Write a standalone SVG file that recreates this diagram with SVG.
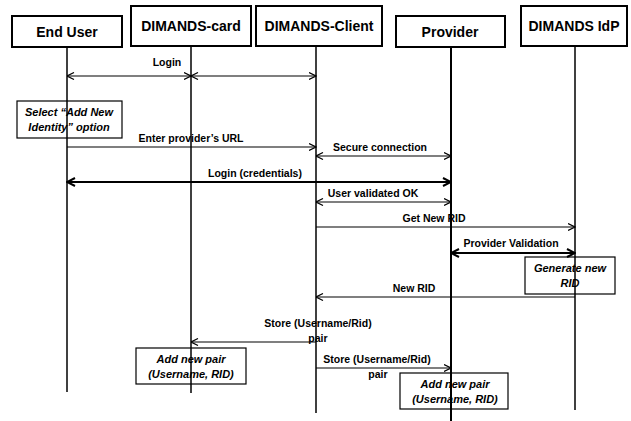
<svg xmlns="http://www.w3.org/2000/svg" width="631" height="421" viewBox="0 0 631 421">
  <style>
    .hdr { fill: #fff; stroke: #000; stroke-width: 2; }
    .life { stroke: #000; stroke-width: 1.5; fill: none; }
    .note { fill: none; stroke: #000; stroke-width: 1.2; }
    .msg { stroke: #000; stroke-width: 1.2; fill: none; }
    .msgb { stroke: #000; stroke-width: 2; fill: none; }
    text { font-family: "Liberation Sans", Arial, sans-serif; font-weight: bold; fill: #000; text-anchor: middle; }
    .t-hdr { font-size: 14px; }
    .t-msg { font-size: 10.5px; }
    .t-note { font-size: 11px; font-style: italic; }
  </style>
  <defs>
    <marker id="ah" viewBox="0 0 8 8" refX="7.5" refY="4" markerWidth="8" markerHeight="8" markerUnits="userSpaceOnUse" orient="auto-start-reverse">
      <path d="M0.5,0.5 L7.5,4 L0.5,7.5" fill="none" stroke="#000" stroke-width="1.2"/>
    </marker>
    <marker id="ahb" viewBox="0 0 10 10" refX="9" refY="5" markerWidth="10" markerHeight="10" markerUnits="userSpaceOnUse" orient="auto-start-reverse">
      <path d="M1,1 L9,5 L1,9" fill="none" stroke="#000" stroke-width="2"/>
    </marker>
  </defs>

  <rect width="631" height="421" fill="#fff"/>

  <!-- participants: header box with its lifeline -->
  <g id="end-user">
    <rect class="hdr" x="12" y="16" width="110" height="31"/>
    <text class="t-hdr" x="67" y="37">End User</text>
    <line class="life" x1="67" y1="47" x2="67" y2="392"/>
  </g>
  <g id="dimands-card">
    <rect class="hdr" x="131" y="6" width="120" height="40"/>
    <text class="t-hdr" x="191" y="31">DIMANDS-card</text>
    <line class="life" x1="191" y1="46" x2="191" y2="393"/>
  </g>
  <g id="dimands-client">
    <rect class="hdr" x="256" y="6" width="126" height="40"/>
    <text class="t-hdr" x="319" y="31">DIMANDS-Client</text>
    <line class="life" x1="316" y1="46" x2="316" y2="413"/>
  </g>
  <g id="provider">
    <rect class="hdr" x="396" y="16" width="109" height="31"/>
    <text class="t-hdr" x="450" y="37">Provider</text>
    <line class="life" x1="451" y1="47" x2="451" y2="421" style="stroke-width:2"/>
  </g>
  <g id="dimands-idp">
    <rect class="hdr" x="521" y="6" width="106" height="40"/>
    <text class="t-hdr" x="574" y="31">DIMANDS IdP</text>
    <line class="life" x1="575" y1="46" x2="575" y2="410"/>
  </g>

  <!-- activity notes -->
  <g id="note-select">
    <rect class="note" x="17" y="101" width="105" height="37"/>
    <text class="t-note" x="69" y="116">Select “Add New</text>
    <text class="t-note" x="69" y="131">Identity” option</text>
  </g>
  <g id="note-generate">
    <rect class="note" x="525" y="257" width="90" height="37"/>
    <text class="t-note" x="570" y="272">Generate new</text>
    <text class="t-note" x="570" y="287">RID</text>
  </g>
  <g id="note-card-pair">
    <rect class="note" x="136" y="348" width="110" height="36"/>
    <text class="t-note" x="191" y="363">Add new pair</text>
    <text class="t-note" x="191" y="378">(Username, RID)</text>
  </g>
  <g id="note-provider-pair">
    <rect class="note" x="400" y="373" width="108" height="36"/>
    <text class="t-note" x="455" y="388">Add new pair</text>
    <text class="t-note" x="455" y="403">(Username, RID)</text>
  </g>

  <!-- messages -->
  <g id="connectors">
    <line class="msg" x1="67" y1="76" x2="191" y2="76" marker-start="url(#ah)" marker-end="url(#ah)"/>
    <line class="msg" x1="191" y1="76" x2="316" y2="76" marker-start="url(#ah)" marker-end="url(#ah)"/>
    <text class="t-msg" x="167" y="66">Login</text>

    <line class="msg" x1="67" y1="147" x2="316" y2="147" marker-end="url(#ah)"/>
    <text class="t-msg" x="191" y="142">Enter provider’s URL</text>

    <line class="msg" x1="316" y1="156" x2="451" y2="156" marker-start="url(#ah)" marker-end="url(#ah)"/>
    <text class="t-msg" x="380" y="151">Secure connection</text>

    <line class="msgb" x1="67" y1="182" x2="451" y2="182" marker-start="url(#ahb)" marker-end="url(#ahb)"/>
    <text class="t-msg" x="255" y="177">Login (credentials)</text>

    <line class="msg" x1="316" y1="202" x2="451" y2="202" marker-start="url(#ah)" marker-end="url(#ah)"/>
    <text class="t-msg" x="373" y="197">User validated OK</text>

    <line class="msg" x1="316" y1="227" x2="575" y2="227" marker-end="url(#ah)"/>
    <text class="t-msg" x="434" y="222">Get New RID</text>

    <line class="msgb" x1="451" y1="253" x2="575" y2="253" marker-start="url(#ahb)" marker-end="url(#ahb)"/>
    <text class="t-msg" x="511" y="247">Provider Validation</text>

    <line class="msg" x1="575" y1="297" x2="316" y2="297" marker-end="url(#ah)"/>
    <text class="t-msg" x="414" y="292">New RID</text>

    <line class="msg" x1="316" y1="342" x2="191" y2="342" marker-end="url(#ah)"/>
    <text class="t-msg" x="318" y="327">Store (Username/Rid)</text>
    <text class="t-msg" x="318" y="342">pair</text>

    <line class="msg" x1="316" y1="368" x2="451" y2="368" marker-end="url(#ah)"/>
    <text class="t-msg" x="377" y="363">Store (Username/Rid)</text>
    <text class="t-msg" x="378" y="378">pair</text>
  </g>
</svg>
